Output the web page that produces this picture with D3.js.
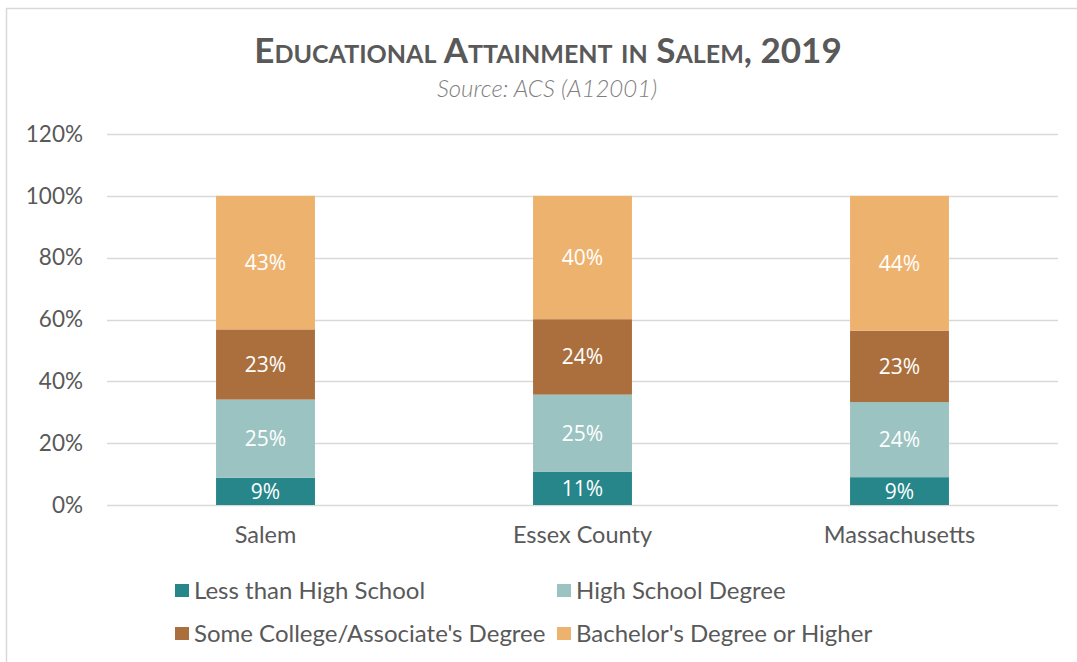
<!DOCTYPE html>
<html>
<head>
<meta charset="utf-8">
<title>Educational Attainment in Salem, 2019</title>
<script src="https://cdn.jsdelivr.net/npm/d3@7"></script>
<style>
  body { margin: 0; background: #fff; font-family: Lato, sans-serif; }
  .tick text { fill: #595959; font-family: Lato, sans-serif; }
  .yaxis .tick text { font-size: 22.5px; }
  .xaxis .tick text { font-size: 23.5px; }
</style>
</head>
<body>
<script>
// data
var places = ["Salem", "Essex County", "Massachusetts"];
var seriesNames = ["Less than High School", "High School Degree", "Some College/Associate's Degree", "Bachelor's Degree or Higher"];
var lessThanHS = [0.088, 0.107, 0.090];
var hsDegree = [0.253, 0.250, 0.243];
var someCollege = [0.227, 0.244, 0.231];
var bachelors = [0.432, 0.399, 0.436];
var yTicks = [0, 0.2, 0.4, 0.6, 0.8, 1.0, 1.2];
var colors = ["#26868A", "#9AC3C2", "#AB6F3E", "#EEB26F"];

var width = 1077, height = 662;
var svg = d3.select("body").append("svg")
    .attr("width", width)
    .attr("height", height);

// chart frame
svg.append("path")
    .attr("d", "M6.5," + height + " V8.5 H" + width)
    .attr("fill", "none")
    .attr("stroke", "#d9d9d9")
    .attr("stroke-width", 1.5);

var x = d3.scaleBand()
    .domain(places)
    .range([107, 1058])
    .paddingInner(0.688)
    .paddingOuter(0.344);

var y = d3.scaleLinear()
    .domain([0, 1.2])
    .range([505, 134]);

// gridlines
svg.append("g").selectAll("line")
    .data(yTicks)
    .enter().append("line")
    .attr("x1", 107).attr("x2", 1058)
    .attr("y1", function(d) { return Math.round(y(d)) + 0.5; })
    .attr("y2", function(d) { return Math.round(y(d)) + 0.5; })
    .attr("stroke", "#d9d9d9")
    .attr("stroke-width", 1.5);

// y axis labels
var yAxis = svg.append("g")
    .attr("class", "yaxis")
    .attr("transform", "translate(107,0)")
    .call(d3.axisLeft(y).tickValues(yTicks).tickSize(0).tickPadding(24).tickFormat(d3.format(".0%")));
yAxis.select(".domain").remove();

// x axis labels
var xAxis = svg.append("g")
    .attr("class", "xaxis")
    .attr("transform", "translate(0,505)")
    .call(d3.axisBottom(x).tickSize(0).tickPadding(21));
xAxis.select(".domain").remove();

// stacks
var rows = places.map(function(p, i) {
  return { place: p, s0: lessThanHS[i], s1: hsDegree[i], s2: someCollege[i], s3: bachelors[i] };
});
var stack = d3.stack().keys(["s0", "s1", "s2", "s3"]);
var layers = stack(rows);

var groups = svg.append("g").selectAll("g")
    .data(layers)
    .enter().append("g")
    .attr("fill", function(d, i) { return colors[i]; });

groups.selectAll("rect")
    .data(function(d) { return d; })
    .enter().append("rect")
    .attr("x", function(d) { return x(d.data.place); })
    .attr("width", x.bandwidth())
    .attr("y", function(d) { return y(d[1]); })
    .attr("height", function(d) { return y(d[0]) - y(d[1]); });

groups.selectAll("text")
    .data(function(d) { return d; })
    .enter().append("text")
    .attr("x", function(d) { return x(d.data.place) + x.bandwidth() / 2; })
    .attr("y", function(d) { return (y(d[0]) + y(d[1])) / 2; })
    .attr("dy", "0.36em")
    .attr("text-anchor", "middle")
    .attr("fill", "#fff")
    .style("font-size", "21px")
    .style("font-family", "'Open Sans', sans-serif")
    .text(function(d) { return Math.round((d[1] - d[0]) * 100) + "%"; });

// title
svg.append("text")
    .attr("x", 548).attr("y", 63)
    .attr("text-anchor", "middle")
    .attr("fill", "#595959")
    .style("font-size", "35px")
    .style("font-weight", "bold")
    .style("font-variant", "small-caps")
    .text("Educational Attainment in Salem, 2019");

svg.append("text")
    .attr("x", 547).attr("y", 97)
    .attr("text-anchor", "middle")
    .attr("fill", "#7f7f7f")
    .style("font-size", "24px")
    .style("font-style", "italic")
    .style("font-weight", 300)
    .text("Source: ACS (A12001)");

// legend
var legendPos = [[175, 590], [557, 590], [175, 633], [557, 633]];
var legend = svg.append("g").selectAll("g")
    .data(seriesNames)
    .enter().append("g")
    .attr("transform", function(d, i) { return "translate(" + legendPos[i][0] + "," + legendPos[i][1] + ")"; });

legend.append("rect")
    .attr("x", 0).attr("y", -6)
    .attr("width", 14).attr("height", 13)
    .attr("fill", function(d, i) { return colors[i]; });

legend.append("text")
    .attr("x", 19).attr("y", 0)
    .attr("dy", "0.36em")
    .attr("fill", "#595959")
    .style("font-size", "24px")
    .text(function(d) { return d; });
</script>
</body>
</html>
